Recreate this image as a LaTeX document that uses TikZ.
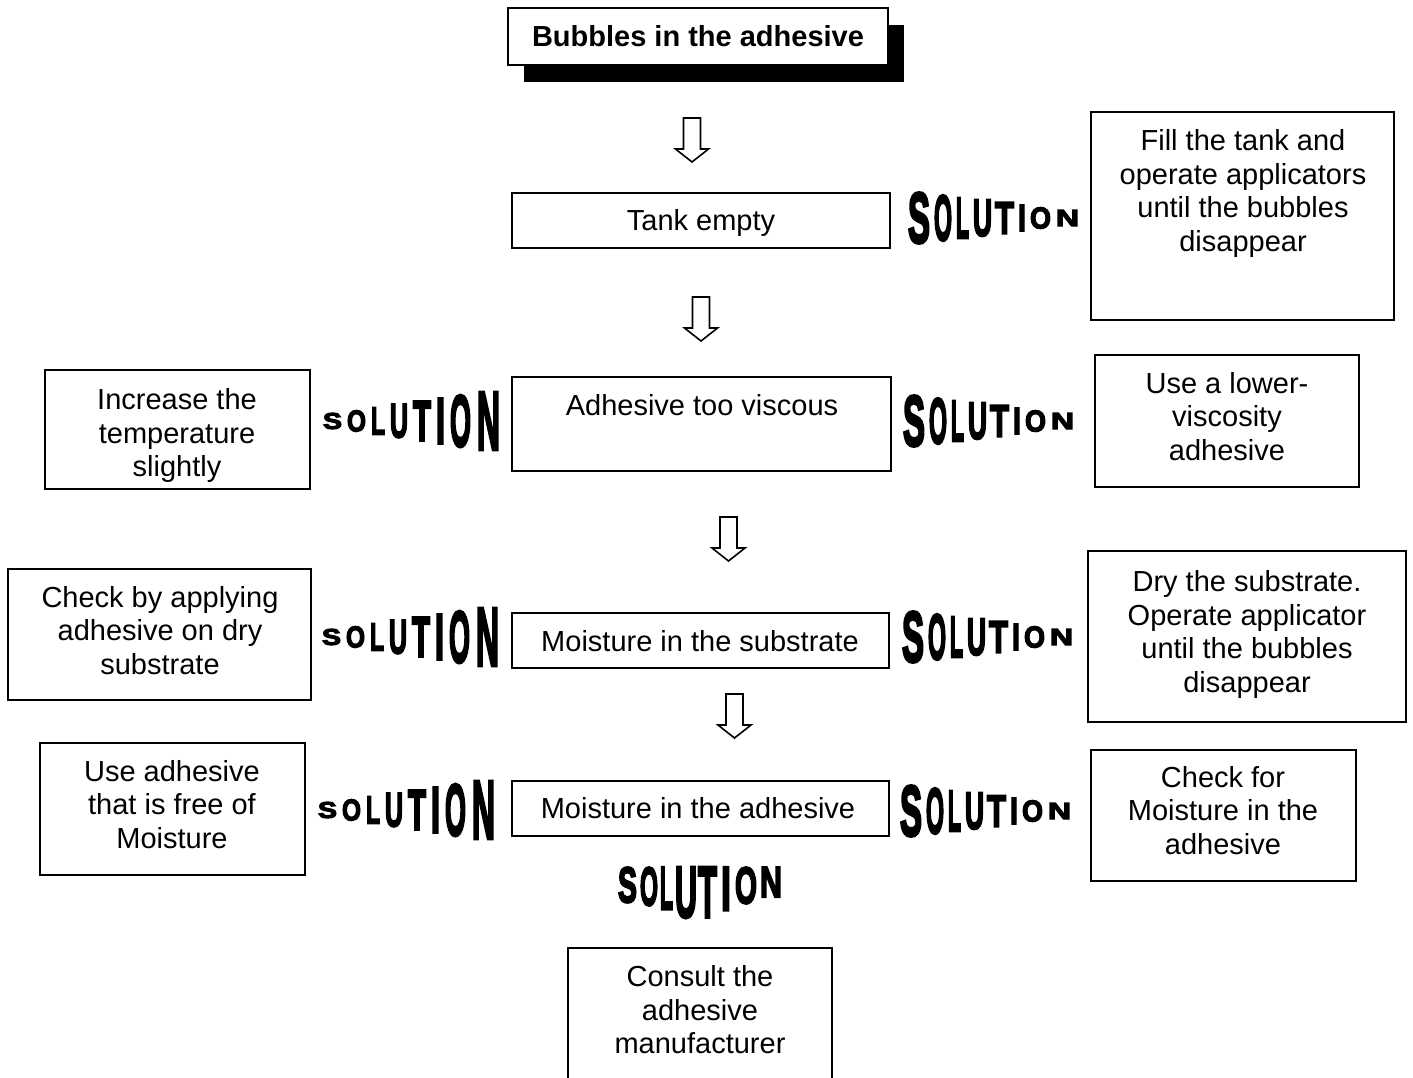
\documentclass[tikz,border=0pt]{standalone}
\usepackage{fontspec}
\setmainfont{Liberation Sans}
\newfontfamily\solfont{Liberation Sans}[UprightFont={* Bold}]
\usetikzlibrary{positioning,shadows}

% heavy letter: glyph filled and stroked
\newcommand\heavychar[1]{\special{pdf:code 2 Tr 0.45 w}#1\special{pdf:code 0 Tr}}
% one letter of the word art: x, y, width, height, letter, anchor, name
\newcommand\solletter[7]{%
  \node[inner sep=0pt, anchor=#6] (#7) at (#1,#2) {\resizebox{#3pt}{#4pt}{\solfont\heavychar{#5}}};}

\begin{document}
\begin{tikzpicture}[x=1pt, y=-1pt,
        box/.style={draw, line width=1.5pt, inner sep=0pt},
        txt/.style={align=center, inner sep=0pt, font=\fontsize{29}{33.5}\selectfont},
        hollow/.style={draw, line width=1.6pt, fill=white, line join=miter}
    ]
        \clip (0,0) rectangle (1413,1077);

        % problem chain
        \node[box, line width=2.6pt, fill=white, minimum width=380pt, minimum height=57pt,
              drop shadow={shadow xshift=16pt, shadow yshift=-17pt, opacity=1, fill=black}]
              (bubbles) at (698,36.5) {};
        \node[txt, font=\fontsize{29}{33.5}\selectfont\bfseries] (bubbles-txt) at (bubbles) {Bubbles in the adhesive};
        \node[box, minimum width=378pt, minimum height=55pt] (tank) at (701,220.5) {};
        \node[txt] (tank-txt) at (701,223) {Tank empty};
        \node[box, minimum width=379pt, minimum height=94pt] (viscous) at (701.5,424) {};
        \node[txt] (viscous-txt) at (702,405) {Adhesive too viscous};
        \node[box, minimum width=377pt, minimum height=55pt] (substrate) at (700.5,640.5) {};
        \node[txt] (substrate-txt) at (700,641) {Moisture in the substrate};
        \node[box, minimum width=377pt, minimum height=55pt] (moist) at (700.5,808.5) {};
        \node[txt] (moist-txt) at (698,808) {Moisture in the adhesive};

        % solutions
        \node[box, minimum width=303pt, minimum height=208pt] (fill) at (1242.5,216) {};
        \node[txt] (fill-txt) at (1243,193.5) {Fill the tank and\\operate applicators\\until the bubbles\\disappear};
        \node[box, minimum width=265pt, minimum height=119pt] (warm) at (177.5,429.5) {};
        \node[txt] (warm-txt) at (177,435.5) {Increase the\\temperature\\slightly};
        \node[box, minimum width=264pt, minimum height=132pt] (lower) at (1227,421) {};
        \node[txt] (lower-txt) at (1227,416.5) {Use a lower-\\viscosity\\adhesive};
        \node[box, minimum width=303pt, minimum height=131pt] (drytest) at (159.5,634.5) {};
        \node[txt] (drytest-txt) at (160,630.5) {Check by applying\\adhesive on dry\\substrate};
        \node[box, minimum width=318pt, minimum height=171pt] (dry) at (1247,636.5) {};
        \node[txt] (dry-txt) at (1247,634.5) {Dry the substrate.\\Operate applicator\\until the bubbles\\disappear};
        \node[box, minimum width=265pt, minimum height=132pt] (free) at (172.5,809) {};
        \node[txt] (free-txt) at (172,804.5) {Use adhesive\\that is free of\\Moisture};
        \node[box, minimum width=265pt, minimum height=131pt] (check) at (1223.5,815.5) {};
        \node[txt] (check-txt) at (1223,810.5) {Check for\\Moisture in the\\adhesive};
        \node[box, minimum width=264pt, minimum height=160pt] (consult) at (700,1028) {};
        \node[txt] (consult-txt) at (700,1010) {Consult the\\adhesive\\manufacturer};

        % hollow down arrows
        \foreach \ax/\ay in {692/118, 701/297, 728.5/517, 734.5/694}
            \draw[hollow] (\ax-8.5,\ay) -- (\ax+8.5,\ay) -- (\ax+8.5,\ay+31) -- (\ax+16.5,\ay+31)
                -- (\ax,\ay+44) -- (\ax-16.5,\ay+31) -- (\ax-8.5,\ay+31) -- cycle;

        % SOLUTION, shrinking to the right
        \foreach \sx/\sy [count=\n] in {908/218, 903/421, 902/637, 900/811}
            \foreach \ch/\dx/\w/\h [count=\k] in {S/11/22/50, O/35/18/45, L/54.5/13/40, U/74.5/19/36,
                    T/96.5/19/31, I/114/8/26, O/132.5/21/21, N/159.5/23/16}
                \solletter{\sx+\dx}{\sy}{\w}{\h}{\ch}{center}{solr-\n-\k};

        % SOLUTION, growing to the right
        \foreach \sx/\sy [count=\n] in {323/421, 322/637, 318/810}
            \foreach \ch/\dx/\w/\h [count=\k] in {S/9.5/19/16, O/33.5/19/21, L/55/14/27, U/76/18/33,
                    T/99/18/39, I/117.5/9/45, O/137.5/21/51, N/165.5/23/57}
                \solletter{\sx+\dx}{\sy}{\w}{\h}{\ch}{center}{soll-\n-\k};

        % SOLUTION above the last box
        \foreach \ch/\dx/\w/\h [count=\k] in {S/9.5/19/35, O/31/18/38, L/48.5/13/42, U/68/22/50,
                T/89.5/19/50, I/108/10/43, O/128/22/36, N/153/22/30}
            \solletter{618+\dx}{867}{\w}{\h}{\ch}{north}{solb-\k};
    \end{tikzpicture}
\end{document}
